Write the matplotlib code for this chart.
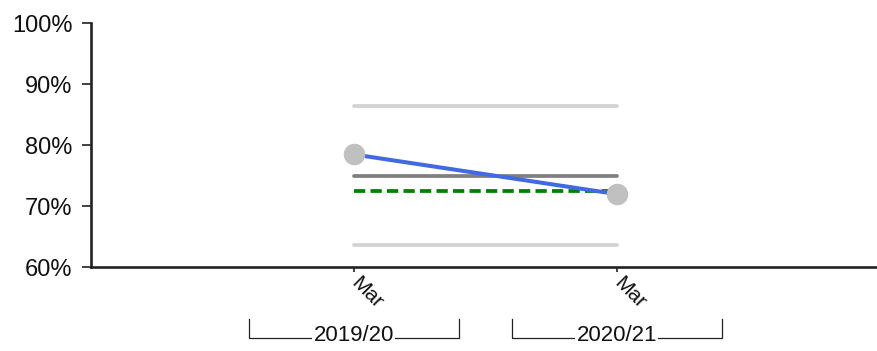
import matplotlib
matplotlib.use("Agg")
import matplotlib.pyplot as plt
import matplotlib.transforms as mtransforms

plt.rcParams['font.family'] = ['Liberation Sans', 'DejaVu Sans']

# Data
months = ["Mar", "Mar"]
periods = ["2019/20", "2020/21"]
values = [78.5, 72.0]          # % per period
mean_line = 75.0
target_line = 72.5
upper_limit = 86.4
lower_limit = 63.6
y_ticks = [60, 70, 80, 90, 100]

x = list(range(len(values)))

fig = plt.figure(figsize=(8.77, 3.51), dpi=100)
ax = fig.add_axes([91 / 877, 0.2385, 1 - 91 / 877, 0.9336 - 0.2385])

# Reference lines
ax.plot([x[0], x[-1]], [upper_limit] * 2, color="#d3d3d3", lw=2.7, solid_capstyle="round", zorder=1)
ax.plot([x[0], x[-1]], [lower_limit] * 2, color="#d3d3d3", lw=2.7, solid_capstyle="round", zorder=1)
ax.plot([x[0], x[-1]], [mean_line] * 2, color="#808080", lw=2.7, solid_capstyle="round", zorder=2)
ax.plot([x[0], x[-1]], [target_line] * 2, color="#008000", lw=2.7, ls=(0, (3.0, 1.4)), zorder=3)

# Series
ax.plot(x, values, color="#4169e1", lw=2.9, zorder=4)
ax.plot(x, values, ls="none", marker="o", ms=14.5, color="#c0c0c0", mec="#c0c0c0", zorder=5)

ax.set_ylim(60, 100)
ax.set_xlim(-1.0, 1.99)
ax.set_yticks(y_ticks)
ax.set_yticklabels([f"{v}%" for v in y_ticks], fontsize=17, color="#111111")
ax.set_xticks(x)
ax.set_xticklabels(months, rotation=-45, ha="left", va="center",
                   rotation_mode="anchor", fontsize=15, color="#111111")

for side in ("top", "right"):
    ax.spines[side].set_visible(False)
for side in ("left", "bottom"):
    ax.spines[side].set_linewidth(1.9)
    ax.spines[side].set_color("#222222")
ax.tick_params(axis="y", length=6.5, width=1.2, color="#222222", pad=7)
ax.tick_params(axis="x", length=3.5, width=1.2, color="#222222", pad=6)

# Period brackets under the month labels
trans = mtransforms.blended_transform_factory(ax.transData, ax.transAxes)
half = 0.4
y_line = -0.29
y_tip = -0.21
for xi, label in zip(x, periods):
    ax.plot([xi - half, xi - half, xi + half, xi + half],
            [y_tip, y_line, y_line, y_tip],
            color="#222222", lw=0.9, transform=trans, clip_on=False)
    ax.text(xi, y_line + 0.01, label, transform=trans, ha="center", va="center",
            fontsize=16, color="#111111",
            bbox=dict(facecolor="white", edgecolor="none", pad=1.0))

fig.savefig("out.png", dpi=100)
